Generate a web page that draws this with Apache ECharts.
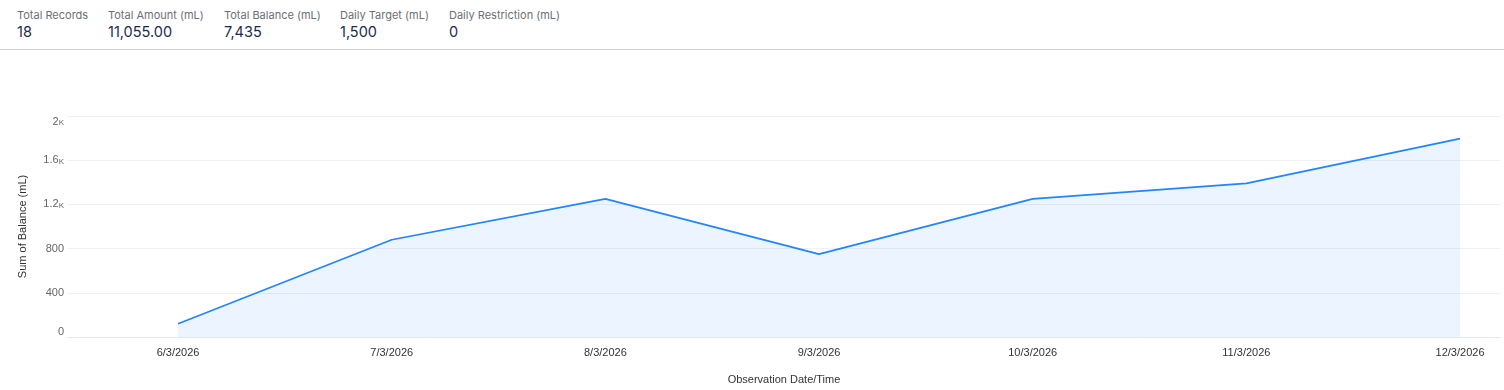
<!DOCTYPE html>
<html>
<head>
<meta charset="utf-8">
<script src="https://cdn.jsdelivr.net/npm/echarts@6/dist/echarts.min.js"></script>
<style>
  html, body { margin: 0; padding: 0; background: #fff; }
  #wrap { position: relative; width: 1504px; height: 390px; overflow: hidden; }
  #chart { position: absolute; left: 0; top: 0; width: 1504px; height: 390px; }
  #header { position: absolute; left: 0; top: 0; width: 1504px; height: 49px; border-bottom: 1px solid #cfcfcf; font-family: Inter, "Noto Sans", sans-serif; z-index: 2; background: #fff; }
  .stat { position: absolute; top: 8px; }
  .stat .lbl { font-size: 11px; color: #6b6f76; line-height: 14px; white-space: nowrap; }
  .stat .val { font-size: 14.5px; color: #1d2b4f; line-height: 18px; margin-top: 1px; white-space: nowrap; }
</style>
</head>
<body>
<div id="wrap">
  <div id="chart"></div>
  <div id="header"></div>
</div>
<script>
// ---- data ----
const statLabels = ['Total Records', 'Total Amount (mL)', 'Total Balance (mL)', 'Daily Target (mL)', 'Daily Restriction (mL)'];
const statValues = ['18', '11,055.00', '7,435', '1,500', '0'];
const dateLabels = ['6/3/2026', '7/3/2026', '8/3/2026', '9/3/2026', '10/3/2026', '11/3/2026', '12/3/2026'];
const balanceValues = [120, 880, 1250, 750, 1250, 1390, 1795];
const yTicks = [0, 400, 800, 1200, 1600, 2000];
const xAxisTitle = 'Observation Date/Time';
const yAxisTitle = 'Sum of Balance (mL)';

// ---- header ----
const statX = [17, 108, 224, 340, 449];
const header = document.getElementById('header');
statLabels.forEach((l, i) => {
  const d = document.createElement('div');
  d.className = 'stat';
  d.style.left = statX[i] + 'px';
  d.innerHTML = '<div class="lbl"></div><div class="val"></div>';
  d.querySelector('.lbl').textContent = l;
  d.querySelector('.val').textContent = statValues[i];
  header.appendChild(d);
});

// ---- chart ----
function parseDMY(s) {
  const p = s.split('/').map(Number);
  return new Date(p[2], p[1] - 1, p[0]).getTime();
}
const times = dateLabels.map(parseDMY);
const DAY = 86400000;
const seriesData = times.map((t, i) => [t, balanceValues[i]]);

const chart = echarts.init(document.getElementById('chart'), null, { renderer: 'canvas' });
chart.setOption({
  animation: false,
  grid: { left: 68, right: 4, top: 116, bottom: 53, containLabel: false },
  xAxis: {
    type: 'time',
    min: times[0] - 0.515 * DAY,
    max: times[times.length - 1] + 0.187 * DAY,
    minInterval: DAY,
    maxInterval: DAY,
    name: xAxisTitle,
    nameLocation: 'middle',
    nameGap: 37,
    nameTextStyle: { fontFamily: 'Liberation Sans, Arial, sans-serif', fontSize: 11, color: '#333' },
    axisLine: { show: true, lineStyle: { color: '#e3e7ee' } },
    axisTick: { show: false },
    splitLine: { show: false },
    axisLabel: {
      fontFamily: 'Liberation Sans, Arial, sans-serif',
      fontSize: 11,
      color: '#333',
      margin: 10,
      hideOverlap: false,
      showMinLabel: false,
      showMaxLabel: false,
      formatter: function (v) {
        const d = new Date(v);
        if (d.getHours() || d.getMinutes() || d.getSeconds()) return '';
        return d.getDate() + '/' + (d.getMonth() + 1) + '/' + d.getFullYear();
      }
    }
  },
  yAxis: {
    type: 'value',
    min: yTicks[0],
    max: yTicks[yTicks.length - 1],
    interval: yTicks[1] - yTicks[0],
    name: yAxisTitle,
    nameLocation: 'middle',
    nameGap: 40,
    nameTextStyle: { fontFamily: 'Liberation Sans, Arial, sans-serif', fontSize: 11, color: '#333' },
    axisLine: { show: false },
    axisTick: { show: false },
    splitLine: { lineStyle: { color: '#eef0f4', width: 1 } },
    axisLabel: {
      fontFamily: 'Liberation Sans, Arial, sans-serif',
      fontSize: 11,
      color: '#666',
      margin: 4,
      verticalAlignMinLabel: 'bottom',
      verticalAlignMaxLabel: 'top',
      formatter: function (v) {
        if (v >= 1000) return '{n|' + (v / 1000) + '}{k|K}';
        return '{n|' + v + '}';
      },
      rich: {
        n: { fontFamily: 'Liberation Sans, Arial, sans-serif', fontSize: 11, color: '#666' },
        k: { fontFamily: 'Liberation Sans, Arial, sans-serif', fontSize: 8, color: '#666', verticalAlign: 'bottom', padding: [2, 0, 0, 0] }
      }
    }
  },
  series: [{
    type: 'line',
    data: seriesData,
    showSymbol: false,
    symbol: 'none',
    lineStyle: { color: '#2185fb', width: 1.6 },
    itemStyle: { color: '#2185fb' },
    areaStyle: { color: 'rgba(33,133,251,0.12)' }
  }]
});
</script>
</body>
</html>
